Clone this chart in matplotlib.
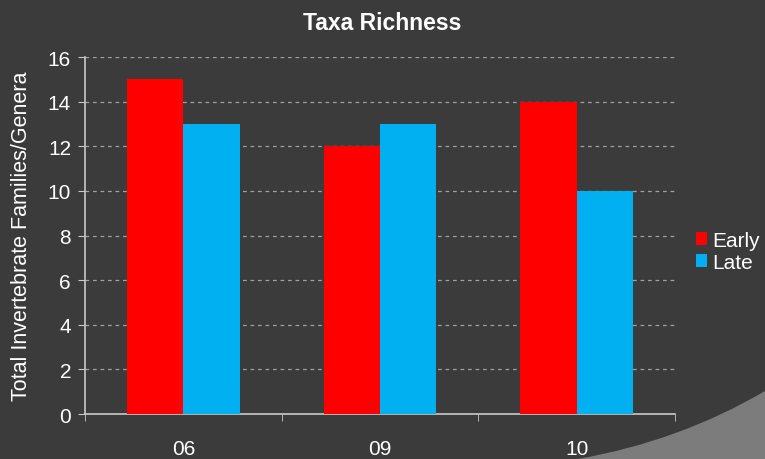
import numpy as np
import matplotlib
matplotlib.use("Agg")
from matplotlib import pyplot as plt
from matplotlib.patches import PathPatch
from matplotlib.path import Path

plt.rcParams['font.family'] = ['Liberation Sans', 'DejaVu Sans']

# data
years = ["06", "09", "10"]
early = [15, 12, 14]
late = [13, 13, 10]

bg = "#3b3b3b"
fg = "#ffffff"
spine = "#c8c8c8"

fig = plt.figure(figsize=(7.65, 4.6), dpi=100, facecolor=bg)
ax = fig.add_axes([0.1111, 0.0978, 0.7713, 0.7761])
ax.set_facecolor(bg)

# decorative page curl in bottom right
verts = [(578 / 765, 0), (680 / 765, 18 / 460), (765 / 765, 68 / 460), (1, 0), (578 / 765, 0)]
codes = [Path.MOVETO, Path.CURVE3, Path.CURVE3, Path.LINETO, Path.CLOSEPOLY]
fig.patches.append(PathPatch(Path(verts, codes), transform=fig.transFigure,
                             facecolor="#7c7c7c", edgecolor="none", zorder=0))

x = np.arange(len(years))
w = 0.287
ax.bar(x - w / 2, early, w, color="#ff0000", label="Early", zorder=3)
ax.bar(x + w / 2, late, w, color="#00b0f0", label="Late", zorder=3)

ax.set_xlim(-0.5, 2.5)
ax.set_ylim(0, 16)
ax.set_yticks(range(0, 17, 2))
ax.yaxis.grid(True, linestyle=(0, (3, 3)), color="#a0a0a0", linewidth=0.9, zorder=1)

ax.set_xticks(x)
ax.set_xticklabels(years)
ax.set_xticks([-0.5, 0.5, 1.5, 2.5], minor=True)
ax.tick_params(axis="x", which="major", length=0, pad=18, labelsize=15, labelcolor=fg)
ax.tick_params(axis="x", which="minor", length=5, color=spine, direction="out")
ax.tick_params(axis="y", length=5, color=spine, labelsize=15, labelcolor=fg, pad=5)

for s in ["top", "right"]:
    ax.spines[s].set_visible(False)
for s in ["left", "bottom"]:
    ax.spines[s].set_color(spine)
    ax.spines[s].set_linewidth(1.2)

ax.set_ylabel("Total Invertebrate Families/Genera", color=fg, fontsize=15.5, labelpad=11)
fig.text(0.5, 0.95, "Taxa Richness", ha="center", va="center", color=fg,
         fontsize=16.5, fontweight="bold")

leg = ax.legend(loc="center left", bbox_to_anchor=(1.01, 0.455), frameon=False,
                fontsize=15, labelcolor=fg, handlelength=0.55, handleheight=0.55,
                handletextpad=0.25, labelspacing=0.15, borderpad=0.2)

plt.savefig("out.png", dpi=100, facecolor=bg)
